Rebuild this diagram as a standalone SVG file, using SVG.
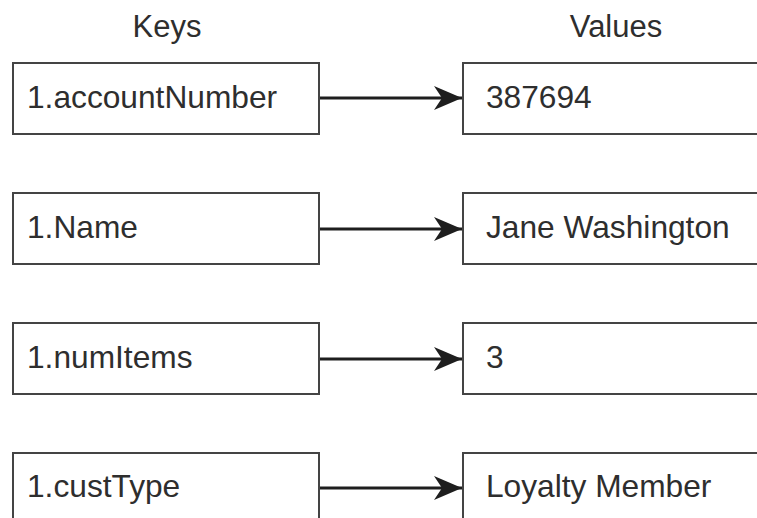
<svg xmlns="http://www.w3.org/2000/svg" width="757" height="518" viewBox="0 0 757 518">
<defs>
<style>
.box{fill:#fff;stroke:#444;stroke-width:2}
.t{font-family:"Liberation Sans",Arial,sans-serif;font-size:31.7px;fill:#2e2e2e}
.h{font-family:"Liberation Sans",Arial,sans-serif;font-size:31px;fill:#2e2e2e;text-anchor:middle}
.conn{stroke:#1e1e1e;stroke-width:3.2;fill:none}
</style>
<marker id="ah" viewBox="0 0 28 24" refX="28" refY="12" markerWidth="28" markerHeight="24" markerUnits="userSpaceOnUse" orient="auto">
<path d="M0,0 L28,12 L0,24 L8,12 Z" fill="#1e1e1e"/>
</marker>
</defs>
<rect width="757" height="518" fill="#fff"/>
<text class="h" x="167" y="37">Keys</text>
<text class="h" x="616" y="37">Values</text>
<g id="connectors">
<line class="conn" x1="320" y1="98" x2="462" y2="98" marker-end="url(#ah)"/>
<line class="conn" x1="320" y1="229" x2="462" y2="229" marker-end="url(#ah)"/>
<line class="conn" x1="320" y1="359" x2="462" y2="359" marker-end="url(#ah)"/>
<line class="conn" x1="320" y1="488" x2="462" y2="488" marker-end="url(#ah)"/>
</g>
<g id="key1"><rect class="box" x="13" y="63" width="306" height="71"/><text class="t" x="27" y="108">1.accountNumber</text></g>
<g id="key2"><rect class="box" x="13" y="193" width="306" height="71"/><text class="t" x="27" y="238">1.Name</text></g>
<g id="key3"><rect class="box" x="13" y="323" width="306" height="71"/><text class="t" x="27" y="368">1.numItems</text></g>
<g id="key4"><rect class="box" x="13" y="453" width="306" height="71"/><text class="t" x="27" y="497">1.custType</text></g>
<g id="val1"><rect class="box" x="463" y="63" width="310" height="71"/><text class="t" x="486" y="108">387694</text></g>
<g id="val2"><rect class="box" x="463" y="193" width="310" height="71"/><text class="t" x="486" y="238">Jane Washington</text></g>
<g id="val3"><rect class="box" x="463" y="323" width="310" height="71"/><text class="t" x="486" y="368">3</text></g>
<g id="val4"><rect class="box" x="463" y="453" width="310" height="71"/><text class="t" x="486" y="497">Loyalty Member</text></g>
</svg>
